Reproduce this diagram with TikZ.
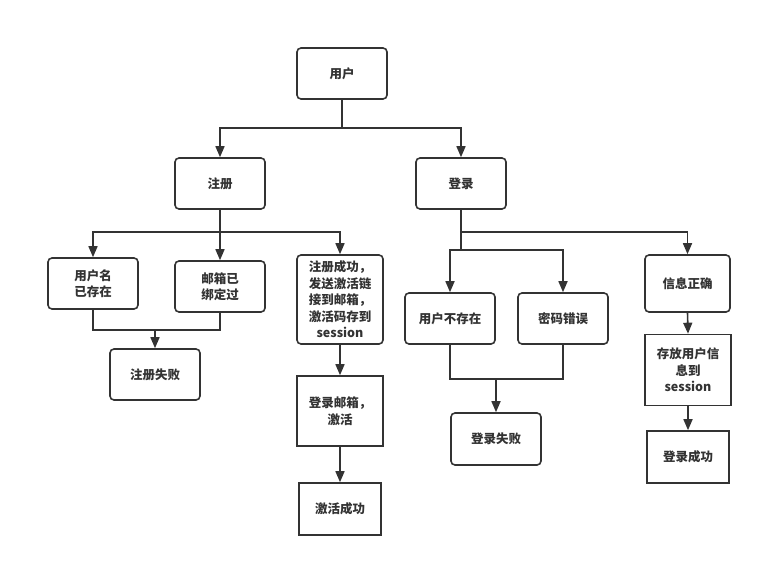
\documentclass[tikz,border=0pt]{standalone}
\usepackage{fontspec}
\setmainfont{Noto Sans CJK SC}
\usetikzlibrary{arrows.meta}
\definecolor{ink}{HTML}{333333}
\tikzset{
  box/.style={draw=ink, line width=1.6pt, fill=white, text=ink, align=center,
    inner sep=0pt, font=\bfseries\fontsize{12.5}{16.5}\selectfont},
  rbox/.style={box, rounded corners=4pt},
  link/.style={draw=ink, line width=1.6pt},
  arr/.style={link, -{Triangle[length=11pt,width=9pt]}}
}
\begin{document}
\begin{tikzpicture}[x=1pt,y=-1pt]
\useasboundingbox (0,0) rectangle (762,567);
% nodes
\node[rbox, minimum width=90pt, minimum height=51pt] (user) at (342,73.5) {用户};
\node[rbox, minimum width=90pt, minimum height=51pt] (reg) at (220,183.5) {注册};
\node[rbox, minimum width=90pt, minimum height=51pt] (login) at (461,183.5) {登录};
\node[rbox, minimum width=90pt, minimum height=51pt] (uname) at (93,283.5) {用户名\\已存在};
\node[rbox, minimum width=90pt, minimum height=51pt] (email) at (220,286.5) {邮箱已\\绑定过};
\node[rbox, minimum width=86pt, minimum height=89pt] (regok) at (340,299.5) {注册成功，\\发送激活链\\接到邮箱，\\激活码存到\\session};
\node[rbox, minimum width=90pt, minimum height=51pt] (regfail) at (155,374.5) {注册失败};
\node[box, minimum width=86pt, minimum height=70pt] (loginmail) at (340,411) {登录邮箱，\\激活};
\node[box, minimum width=82pt, minimum height=52pt] (actok) at (340,509) {激活成功};
\node[rbox, minimum width=90pt, minimum height=51pt] (nouser) at (450,318.5) {用户不存在};
\node[rbox, minimum width=90pt, minimum height=51pt] (wrongpw) at (563,318.5) {密码错误};
\node[rbox, minimum width=90pt, minimum height=52pt] (loginfail) at (496,439) {登录失败};
\node[rbox, minimum width=85pt, minimum height=57pt] (infook) at (687.5,283.5) {信息正确};
\node[box, minimum width=86pt, minimum height=71pt] (store) at (688,370) {存放用户信\\息到\\session};
\node[box, minimum width=82pt, minimum height=52pt] (loginok) at (688,457) {登录成功};
% junctions
\coordinate (j1) at (342,128);
\coordinate (j2) at (220,232);
\coordinate (j3) at (155,330);
\coordinate (j4) at (461,232);
\coordinate (j5) at (461,250);
\coordinate (j6) at (496,379);
% connectors
\draw[link] (user.south) -- (j1);
\draw[arr] (j1) -| (reg.north);
\draw[arr] (j1) -| (login.north);
\draw[link] (reg.south) -- (j2);
\draw[arr] (j2) -| (uname.north);
\draw[arr] (j2) -- (email.north);
\draw[arr] (j2) -| (regok.north);
\draw[link] (uname.south) |- (j3);
\draw[link] (email.south) |- (j3);
\draw[arr] (j3) -- (regfail.north);
\draw[arr] (regok.south) -- (loginmail.north);
\draw[arr] (loginmail.south) -- (actok.north);
\draw[link] (login.south) -- (j5);
\draw[arr] (j4) -| (infook.north);
\draw[arr] (j5) -| (nouser.north);
\draw[arr] (j5) -| (wrongpw.north);
\draw[link] (nouser.south) |- (j6);
\draw[link] (wrongpw.south) |- (j6);
\draw[arr] (j6) -- (loginfail.north);
\draw[arr] (infook.south) -- (store.north);
\draw[arr] (store.south) -- (loginok.north);
\end{tikzpicture}
\end{document}
